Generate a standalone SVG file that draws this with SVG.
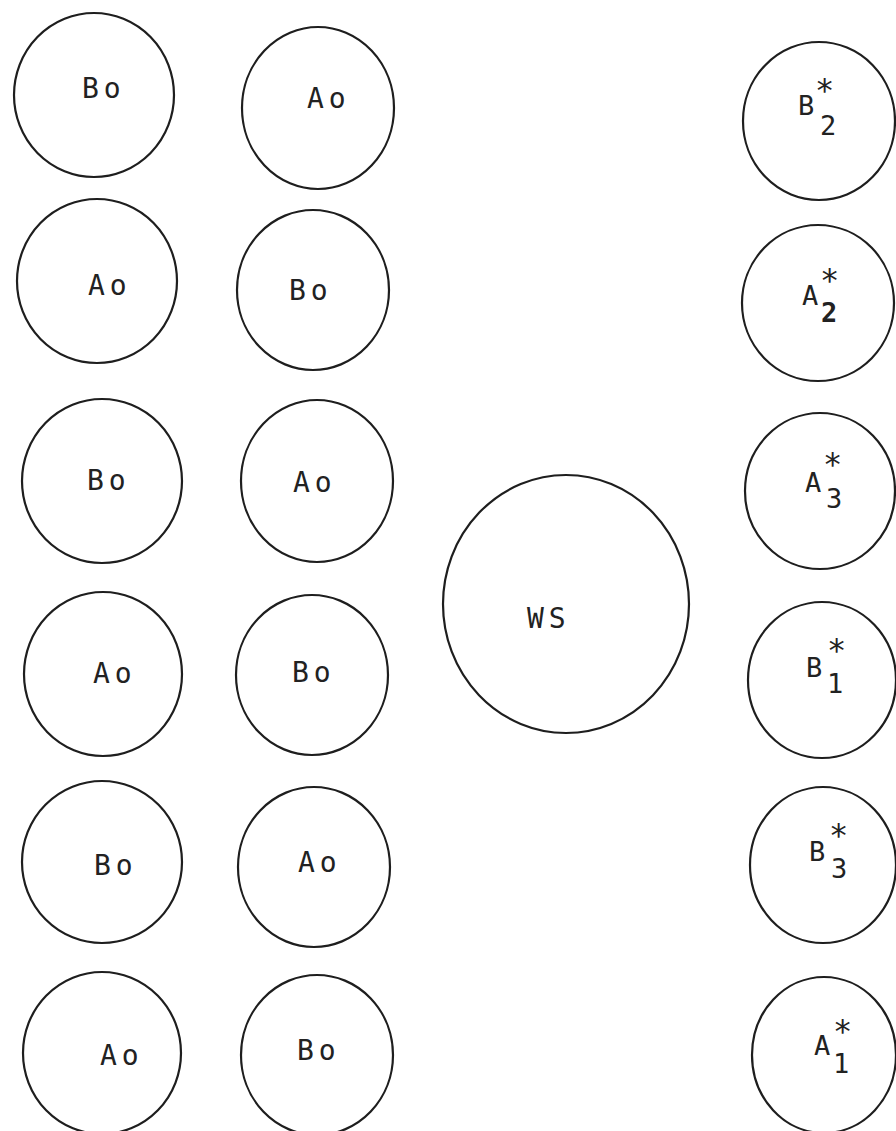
<svg xmlns="http://www.w3.org/2000/svg" width="896" height="1131" viewBox="0 0 896 1131">
<style>
.c{fill:none;stroke:#1e1e1e;stroke-width:2.2}
.t{font-family:"DejaVu Sans Mono","Liberation Mono",monospace;font-size:28px;fill:#222;letter-spacing:5px}
.s{font-family:"DejaVu Sans Mono","Liberation Mono",monospace;font-size:27px;fill:#222}
.a{font-size:32px}
</style>
<rect width="896" height="1131" fill="#ffffff"/>
<g id="connectors"></g>
<g id="c1r1"><ellipse class="c" cx="94" cy="95" rx="80" ry="82"/><text class="t" x="82" y="98">Bo</text></g>
<g id="c1r2"><ellipse class="c" cx="97" cy="281" rx="80" ry="82"/><text class="t" x="88" y="295">Ao</text></g>
<g id="c1r3"><ellipse class="c" cx="102" cy="481" rx="80" ry="82"/><text class="t" x="87" y="490">Bo</text></g>
<g id="c1r4"><ellipse class="c" cx="103" cy="674" rx="79" ry="82"/><text class="t" x="93" y="683">Ao</text></g>
<g id="c1r5"><ellipse class="c" cx="102" cy="862" rx="80" ry="81"/><text class="t" x="94" y="875">Bo</text></g>
<g id="c1r6"><ellipse class="c" cx="102" cy="1053" rx="79" ry="81"/><text class="t" x="100" y="1065">Ao</text></g>
<g id="c2r1"><ellipse class="c" cx="318" cy="108" rx="76" ry="81"/><text class="t" x="307" y="108">Ao</text></g>
<g id="c2r2"><ellipse class="c" cx="313" cy="290" rx="76" ry="80"/><text class="t" x="289" y="300">Bo</text></g>
<g id="c2r3"><ellipse class="c" cx="317" cy="481" rx="76" ry="81"/><text class="t" x="293" y="492">Ao</text></g>
<g id="c2r4"><ellipse class="c" cx="312" cy="675" rx="76" ry="80"/><text class="t" x="292" y="682">Bo</text></g>
<g id="c2r5"><ellipse class="c" cx="314" cy="867" rx="76" ry="80"/><text class="t" x="298" y="872">Ao</text></g>
<g id="c2r6"><ellipse class="c" cx="317" cy="1055" rx="76" ry="80"/><text class="t" x="297" y="1060">Bo</text></g>
<g id="ws"><ellipse class="c" cx="566" cy="604" rx="123" ry="129"/><text class="t" x="527" y="628">WS</text></g>
<g id="b2"><ellipse class="c" cx="819" cy="121" rx="76" ry="79"/><text class="s" x="798" y="115">B<tspan class="a" x="815" y="101">*</tspan><tspan x="820" y="135">2</tspan></text></g>
<g id="a2"><ellipse class="c" cx="818" cy="303" rx="76" ry="78"/><text class="s" x="802" y="305">A<tspan class="a" x="820" y="291">*</tspan><tspan x="821" y="322" font-weight="bold">2</tspan></text></g>
<g id="a3"><ellipse class="c" cx="820" cy="491" rx="75" ry="78"/><text class="s" x="805" y="492">A<tspan class="a" x="823" y="475">*</tspan><tspan x="826" y="508">3</tspan></text></g>
<g id="b1"><ellipse class="c" cx="822" cy="680" rx="74" ry="78"/><text class="s" x="806" y="677">B<tspan class="a" x="827" y="661">*</tspan><tspan x="827" y="693">1</tspan></text></g>
<g id="b3"><ellipse class="c" cx="823" cy="865" rx="73" ry="78"/><text class="s" x="809" y="861">B<tspan class="a" x="829" y="846">*</tspan><tspan x="831" y="878">3</tspan></text></g>
<g id="a1"><ellipse class="c" cx="824" cy="1055" rx="72" ry="78"/><text class="s" x="814" y="1055">A<tspan class="a" x="833" y="1042">*</tspan><tspan x="833" y="1073">1</tspan></text></g>
</svg>
